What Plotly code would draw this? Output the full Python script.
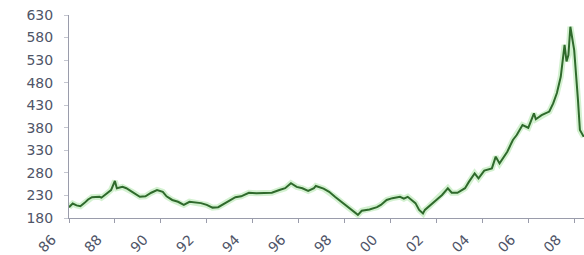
import plotly.graph_objects as go

# Month of each reading
months = [
    "1986-01", "1986-03", "1986-05", "1986-07", "1986-09", "1986-11",
    "1987-01", "1987-05", "1987-06", "1987-08", "1987-11",
    "1988-01", "1988-02", "1988-05", "1988-07", "1988-10",
    "1989-02", "1989-05", "1989-08", "1989-11",
    "1990-02", "1990-04", "1990-07", "1990-10",
    "1991-01", "1991-04", "1991-07", "1991-10",
    "1992-01", "1992-04", "1992-07", "1992-09",
    "1993-01", "1993-04", "1993-07", "1993-11",
    "1994-03", "1994-06", "1994-11",
    "1995-03", "1995-06", "1995-09", "1995-12",
    "1996-03", "1996-06", "1996-09", "1996-10",
    "1997-02", "1997-05", "1997-08", "1997-12",
    "1998-03", "1998-07", "1998-08", "1998-10",
    "1999-02", "1999-06", "1999-08", "1999-11",
    "2000-02", "2000-06", "2000-08", "2000-10",
    "2001-02", "2001-04", "2001-06", "2001-07", "2001-09",
    "2002-01", "2002-04", "2002-07", "2002-09", "2002-12",
    "2003-04", "2003-06", "2003-09", "2003-11",
    "2004-02", "2004-06", "2004-08", "2004-10",
    "2005-02", "2005-05", "2005-07", "2005-10",
    "2006-01", "2006-04", "2006-05", "2006-08", "2006-12",
    "2007-02", "2007-04", "2007-06", "2007-07", "2007-08", "2007-09", "2007-10", "2007-11",
    "2008-01", "2008-03", "2008-04", "2008-06",
]

index_values = [
    204, 212, 208, 206, 213, 221,
    226, 227, 225, 231, 242,
    262, 246, 249, 246, 238,
    227, 228, 236, 242,
    238, 228, 220, 216,
    209, 216, 214, 213,
    209, 203, 204, 209,
    220, 226, 228, 236,
    235, 235, 236,
    242, 246, 257, 249,
    246, 240, 246, 251,
    245, 238, 227, 213,
    204, 190, 187, 196,
    199, 204, 209, 220,
    224, 227, 223, 227,
    213, 198, 190, 198, 205,
    220, 231, 246, 236, 236,
    246, 260, 279, 268,
    285, 290, 316, 301,
    327, 353, 364, 386,
    380, 412, 399, 408, 416,
    434, 457, 493, 523, 564, 527, 541, 604,
    552, 442, 375, 360,
]

tick_dates = ["1986-01-01", "1988-01-01", "1990-01-01", "1992-01-01", "1994-01-01",
              "1996-01-01", "1998-01-01", "2000-01-01", "2002-01-01", "2004-01-01",
              "2006-01-01", "2008-01-01"]
tick_labels = ["86", "88", "90", "92", "94", "96", "98", "00", "02", "04", "06", "08"]

y_ticks = [180, 230, 280, 330, 380, 430, 480, 530, 580, 630]

x = [m + "-01" for m in months]

fig = go.Figure()
# soft light-green halo under the line
fig.add_trace(go.Scatter(x=x, y=index_values, mode="lines",
                         line=dict(color="rgba(130,215,120,0.35)", width=6),
                         hoverinfo="skip", showlegend=False))
fig.add_trace(go.Scatter(x=x, y=index_values, mode="lines",
                         line=dict(color="#2f6a2c", width=2),
                         showlegend=False))

label_font = dict(family="DejaVu Sans", size=14, color="#4f5568")

fig.update_layout(
    width=584, height=255,
    margin=dict(l=69, r=0, t=15, b=37),
    paper_bgcolor="white", plot_bgcolor="white",
    xaxis=dict(
        type="date",
        range=["1986-01-01", "2008-06-05"],
        tickvals=tick_dates, ticktext=tick_labels,
        tickangle=-45,
        ticks="outside", ticklen=4, tickcolor="#9a9cab",
        showline=True, linecolor="#9a9cab", linewidth=1,
        showgrid=False, zeroline=False,
        tickfont=label_font,
        ticklabelstandoff=3, ticklabelshift=-17,
        automargin=False,
    ),
    yaxis=dict(
        range=[180, 630],
        tickvals=y_ticks,
        ticks="outside", ticklen=4, tickcolor="#c4c6d0",
        showline=True, linecolor="#9a9cab", linewidth=1,
        showgrid=False, zeroline=False,
        tickfont=label_font,
        ticklabelstandoff=8,
        automargin=False,
    ),
)

# remove the browser's default page margin so the figure fills the window
fig.write_html("out.html", config={"displayModeBar": False},
               post_script="document.body.style.margin='0';")
